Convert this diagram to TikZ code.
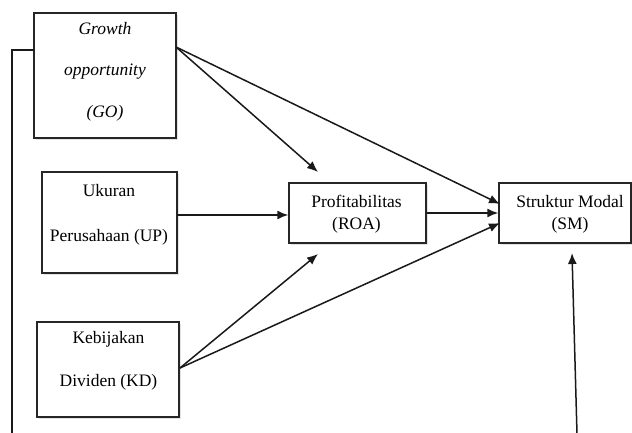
\documentclass[tikz,border=0pt]{standalone}
\usepackage{fontspec}
\setmainfont{Liberation Serif}
\usetikzlibrary{arrows.meta,shadows}
\begin{document}
\begin{tikzpicture}[x=1pt,y=-1pt,
  box/.style={draw=black!85, line width=1.4pt, fill=white, inner sep=0pt,
    drop shadow={opacity=0.22, shadow xshift=2pt, shadow yshift=-2pt}},
  lbl/.style={align=center, inner sep=0pt, text=black},
  conn/.style={line width=1.5pt, draw=black!90},
  arr/.style={conn, -{Latex[length=11pt,width=9pt]}}]
\useasboundingbox (0,0) rectangle (632,433);

% boxes
\node[box, minimum width=142pt, minimum height=125pt] (go)  at (105,75.5) {};
\node[box, minimum width=135pt, minimum height=101pt] (up)  at (109.5,222.5) {};
\node[box, minimum width=142pt, minimum height=95pt]  (kd)  at (108,369.5) {};
\node[box, minimum width=137pt, minimum height=60pt]  (roa) at (357.5,213) {};
\node[box, minimum width=132pt, minimum height=60pt]  (sm)  at (565,213) {};

% texts
\node[lbl, font=\fontsize{17.5}{41.5}\selectfont\itshape] (goT) at (105,71.5) {Growth\\opportunity\\(GO)};
\node[lbl, font=\fontsize{17.5}{45}\selectfont] (upT) at (109,214.5) {Ukuran\\Perusahaan (UP)};
\node[lbl, font=\fontsize{17.5}{43}\selectfont] (kdT) at (108.5,360.5) {Kebijakan\\Dividen (KD)};
\node[lbl, font=\fontsize{17.5}{22}\selectfont] (roaT) at (356.5,214) {Profitabilitas\\(ROA)};
\node[lbl, font=\fontsize{17.5}{22}\selectfont] (smT) at (570,214) {Struktur Modal\\(SM)};

% connector end points
\coordinate (goOut) at (176,47);
\coordinate (goLeft) at (34,50);
\coordinate (leftEnd) at (12,434);
\coordinate (upOut) at (177,215);
\coordinate (kdOut) at (180,368);
\coordinate (roaTop) at (318,172);
\coordinate (roaBot) at (318,254);
\coordinate (smA) at (500,204);
\coordinate (smC) at (500,223);
\coordinate (smBotStart) at (577,434);
\coordinate (smBotEnd) at (572,253);

% connectors
\draw[arr] (goOut) -- (roaTop);
\draw[arr] (goOut) -- (smA);
\draw[arr] (upOut) -- (roa.west |- upOut);
\draw[arr] (roa.east) -- (sm.west);
\draw[arr] (kdOut) -- (roaBot);
\draw[arr] (kdOut) -- (smC);
\draw[arr] (smBotStart) -- (smBotEnd);
\draw[conn] (goLeft) -- (goLeft -| leftEnd) -- (leftEnd);
\end{tikzpicture}
\end{document}
